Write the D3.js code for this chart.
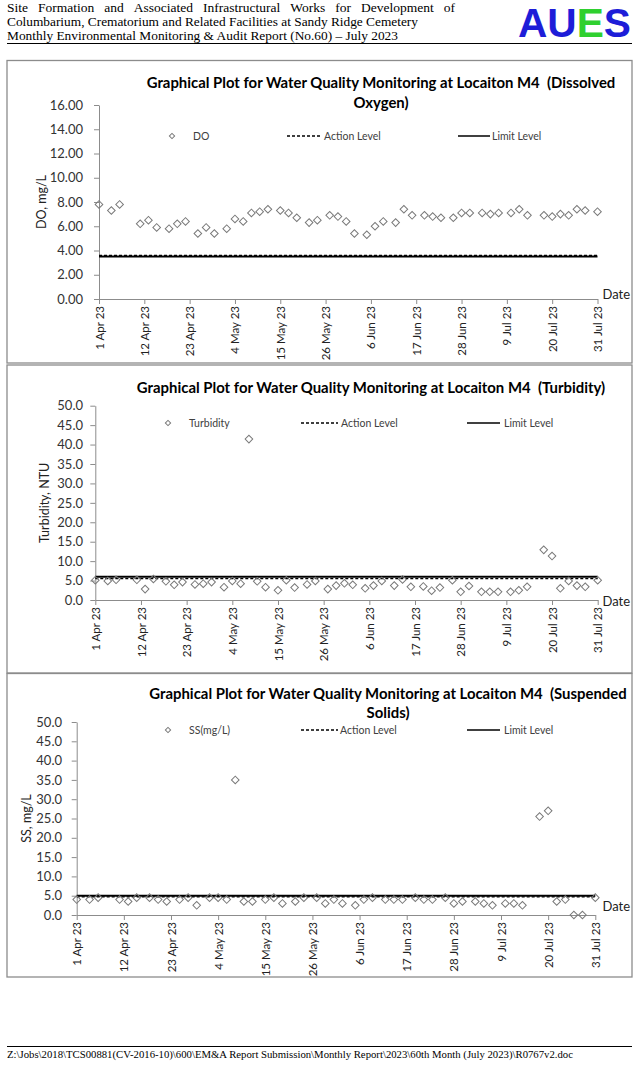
<!DOCTYPE html>
<html><head><meta charset="utf-8">
<script src="https://cdn.jsdelivr.net/npm/d3@7"></script>
<style>body{margin:0;background:#fff;} svg{display:block;} .pre{white-space:pre;}</style>
</head><body>
<svg id="page" width="640" height="1065"></svg>
<script>
// ---------- DATA ----------
const sampleDates = [
  "2023-04-01","2023-04-04","2023-04-06","2023-04-11","2023-04-13","2023-04-15",
  "2023-04-18","2023-04-20","2023-04-22","2023-04-25","2023-04-27","2023-04-29",
  "2023-05-02","2023-05-04","2023-05-06","2023-05-08","2023-05-10","2023-05-12",
  "2023-05-15","2023-05-17","2023-05-19","2023-05-22","2023-05-24","2023-05-27",
  "2023-05-29","2023-05-31","2023-06-02","2023-06-05","2023-06-07","2023-06-09",
  "2023-06-12","2023-06-14","2023-06-16","2023-06-19","2023-06-21","2023-06-23",
  "2023-06-26","2023-06-28","2023-06-30","2023-07-03","2023-07-05","2023-07-07",
  "2023-07-10","2023-07-12","2023-07-14","2023-07-18","2023-07-20","2023-07-22",
  "2023-07-24","2023-07-26","2023-07-28","2023-07-31"];
const doValues = [
  7.8,7.3,7.8,6.2,6.5,5.9, 5.8,6.2,6.4,5.4,5.9,5.4,
  5.8,6.6,6.4,7.1,7.2,7.4, 7.3,7.1,6.7,6.3,6.5,6.9,
  6.8,6.4,5.4,5.3,6.0,6.4, 6.3,7.4,6.9,6.9,6.8,6.7,
  6.7,7.1,7.1,7.1,7.0,7.1, 7.1,7.4,6.9,6.9,6.8,7.0,
  6.9,7.4,7.3,7.2];
const turbidityValues = [
  5.1,4.9,5.2,5.2,2.8,5.4, 4.8,3.9,4.6,4.0,4.2,4.6,
  3.3,4.9,4.2,41.4,4.8,3.3, 2.5,5.1,3.2,4.0,4.9,2.8,
  3.7,4.3,3.9,3.0,3.7,4.9, 3.7,5.3,3.4,3.5,2.4,3.2,
  5.1,2.1,3.6,2.1,2.1,2.1, 2.1,2.5,3.4,12.9,11.3,3.0,
  4.9,3.7,3.4,5.1];
const ssValues = [
  4.0,4.0,4.5,4.0,3.5,4.5, 4.5,4.0,3.5,4.0,4.5,2.5,
  4.5,4.5,4.0,35.0,3.5,3.5, 4.0,4.5,3.0,3.5,4.5,4.5,
  3.0,4.0,3.0,2.5,4.0,4.5, 4.0,4.0,4.0,4.5,4.0,4.0,
  4.5,3.0,3.5,3.5,3.0,2.5, 3.0,3.0,2.5,25.5,27.0,3.5,
  4.0,0.0,0.0,4.5];
const xTickLabels = ["1 Apr 23","12 Apr 23","23 Apr 23","4 May 23","15 May 23","26 May 23",
  "6 Jun 23","17 Jun 23","28 Jun 23","9 Jul 23","20 Jul 23","31 Jul 23"];
const doYTicks = [0,2,4,6,8,10,12,14,16];
const tssYTicks = [0,5,10,15,20,25,30,35,40,45,50];
const actionLevels = [3.6, 5.5, 4.7];   // DO, Turbidity, SS
const limitLevels  = [3.5, 6.0, 5.0];
const seriesNames = ["DO","Turbidity","SS(mg/L)"];
const yTitles = ["DO, mg/L","Turbidity, NTU","SS, mg/L"];
const titleLines = [
  ["Graphical Plot for Water Quality Monitoring at Locaiton M4  (Dissolved","Oxygen)"],
  ["Graphical Plot for Water Quality Monitoring at Locaiton M4  (Turbidity)"],
  ["Graphical Plot for Water Quality Monitoring at Locaiton M4  (Suspended","Solids)"]];
const headerLines = [
  "Site Formation and Associated Infrastructural Works for Development of",
  "Columbarium, Crematorium and Related Facilities at Sandy Ridge Cemetery",
  "Monthly Environmental Monitoring & Audit Report (No.60) \u2013 July 2023"];
const footerText = "Z:\\Jobs\\2018\\TCS00881(CV-2016-10)\\600\\EM&A Report Submission\\Monthly Report\\2023\\60th Month (July 2023)\\R0767v2.doc";

// ---------- DRAW ----------
const svg = d3.select("#page");
const parse = d3.utcParse("%Y-%m-%d");
const parseTick = d3.utcParse("%e %b %y");
const dates = sampleDates.map(parse);
const tickDates = xTickLabels.map(parseTick);
const sans = "Lato, 'Open Sans', sans-serif";

// header
const serif = "'Liberation Serif','Times New Roman',serif";
const hdr = svg.append("g").attr("font-family", serif).attr("font-size", 13.5).attr("fill", "#000");
(function(){
  const words = headerLines[0].split(" ");
  const x0 = 7, x1 = 455, yb = 11.5;
  const tmp = words.map(w => hdr.append("text").attr("y", yb).text(w));
  const widths = tmp.map(t => t.node().getComputedTextLength());
  const gap = (x1 - x0 - d3.sum(widths)) / (words.length - 1);
  let x = x0;
  tmp.forEach((t, i) => { t.attr("x", x); x += widths[i] + gap; });
})();
hdr.append("text").attr("x", 7).attr("y", 25.5).attr("textLength", 411).attr("lengthAdjust", "spacingAndGlyphs").text(headerLines[1]);
hdr.append("text").attr("x", 7).attr("y", 39.5).attr("textLength", 391).attr("lengthAdjust", "spacingAndGlyphs").text(headerLines[2]);
svg.append("line").attr("x1", 7).attr("x2", 632).attr("y1", 43.5).attr("y2", 43.5).attr("stroke", "#000").attr("stroke-width", 1);

// logo
const logoLetters = [["A","#1d1dd8"],["U","#1d1dd8"],["E","#2fd02f"],["S","#1d1dd8"]];
const logo = svg.append("text").attr("x", 518).attr("y", 37).attr("font-family", "'Liberation Sans',Arial,sans-serif")
  .attr("font-weight", "bold").attr("font-size", 40.5).attr("textLength", 113).attr("lengthAdjust", "spacingAndGlyphs");
logoLetters.forEach(([c, col]) => logo.append("tspan").attr("fill", col).text(c));

// footer
svg.append("line").attr("x1", 7).attr("x2", 632).attr("y1", 1046.5).attr("y2", 1046.5).attr("stroke", "#000").attr("stroke-width", 1);
svg.append("text").attr("x", 7).attr("y", 1058).attr("font-family", serif).attr("font-size", 9.5)
  .attr("textLength", 566).attr("lengthAdjust", "spacingAndGlyphs").text(footerText);

const charts = [
  {values: doValues, yTicks: doYTicks, fmt: ".2f", box: [60.5, 363], x0: 99, x1: 597.5, yTop: 105, yBot: 299,
   labelEnd: 83, yTitleX: 42, titleY: [83, 103], titleCx: 381, titleW: 469,
   legY: 136, legMarkX: 172, legTextX: 193, dashX: [287, 322], actTextX: 324, solidX: [458, 490], limTextX: 492, dateY: 294},
  {values: turbidityValues, yTicks: tssYTicks, fmt: ".1f", box: [365, 673], x0: 95.3, x1: 597.7, yTop: 405.7, yBot: 600,
   labelEnd: 83, yTitleX: 45, titleY: [388], titleCx: 371, titleW: 469,
   legY: 423, legMarkX: 168, legTextX: 189, dashX: [301, 338], actTextX: 341, solidX: [467, 500], limTextX: 504, dateY: 601},
  {values: ssValues, yTicks: tssYTicks, fmt: ".1f", box: [673.5, 977], x0: 76.7, x1: 595.3, yTop: 722, yBot: 915,
   labelEnd: 62, yTitleX: 27, titleY: [694, 713], titleCx: 388, titleW: 478,
   legY: 730, legMarkX: 168, legTextX: 189, dashX: [301, 338], actTextX: 340, solidX: [467, 500], limTextX: 504, dateY: 906}
];

const diamond = d3.symbol(d3.symbolSquare, 29)();
const diamondSmall = d3.symbol(d3.symbolSquare, 14)();

charts.forEach((c, k) => {
  const g = svg.append("g");
  g.append("rect").attr("x", 7).attr("y", c.box[0]).attr("width", 625).attr("height", c.box[1] - c.box[0])
    .attr("fill", "none").attr("stroke", "#8c8c8c").attr("stroke-width", 1.3);

  const x = d3.scaleUtc().domain([tickDates[0], tickDates[tickDates.length - 1]]).range([c.x0, c.x1]);
  const y = d3.scaleLinear().domain([0, c.yTicks[c.yTicks.length - 1]]).range([c.yBot, c.yTop]);

  // title
  const tg = g.append("g").attr("font-family", sans).attr("font-weight", "bold").attr("fill", "#000");
  const t0 = tg.append("text").attr("class", "pre").attr("font-size", 14).attr("text-anchor", "middle").attr("x", c.titleCx)
    .attr("y", c.titleY[0]).attr("dy", "0.35em").text(titleLines[k][0]);
  const fs = 14 * c.titleW / t0.node().getComputedTextLength();
  t0.attr("font-size", fs);
  if (titleLines[k][1]) tg.append("text").attr("font-size", fs).attr("text-anchor", "middle").attr("x", c.titleCx)
    .attr("y", c.titleY[1]).attr("dy", "0.35em").text(titleLines[k][1]);

  // y axis
  const ya = g.append("g").attr("transform", `translate(${c.x0},0)`)
    .call(d3.axisLeft(y).tickValues(c.yTicks).tickFormat(d3.format(c.fmt)).tickSize(5).tickSizeOuter(0).tickPadding(c.x0 - c.labelEnd - 5));
  ya.select(".domain").attr("stroke", "#8c8c8c");
  ya.selectAll(".tick line").attr("stroke", "#8c8c8c");
  ya.selectAll(".tick text").attr("font-family", sans).attr("font-size", 13).attr("fill", "#333");

  // x axis
  const xa = g.append("g").attr("transform", `translate(0,${c.yBot})`)
    .call(d3.axisBottom(x).tickValues(tickDates).tickFormat((d, i) => xTickLabels[i]).tickSize(5).tickSizeOuter(0));
  xa.select(".domain").attr("stroke", "#8c8c8c");
  xa.selectAll(".tick line").attr("stroke", "#8c8c8c");
  xa.selectAll(".tick text").attr("font-family", sans).attr("font-size", 11.5).attr("fill", "#222")
    .attr("transform", "rotate(-90)").attr("text-anchor", "end").attr("x", -7).attr("y", 0).attr("dy", "0.35em");

  // y title
  g.append("text").attr("transform", `translate(${c.yTitleX},${(c.yTop + c.yBot) / 2}) rotate(-90)`)
    .attr("text-anchor", "middle").attr("dy", "0.35em").attr("font-family", sans).attr("font-size", 12.5).attr("fill", "#222")
    .text(yTitles[k]);
  // Date label
  g.append("text").attr("x", 602.5).attr("y", c.dateY).attr("dy", "0.35em").attr("font-family", sans)
    .attr("font-size", 13).attr("fill", "#222").text("Date");

  // level lines
  const span = [dates[0], dates[dates.length - 1]];
  const lvl = (v) => d3.line().x(d => x(d)).y(() => y(v))(span);
  g.append("path").attr("d", lvl(limitLevels[k])).attr("stroke", "#000").attr("stroke-width", 2).attr("fill", "none");
  g.append("path").attr("d", lvl(actionLevels[k])).attr("stroke", "#000").attr("stroke-width", 1.3)
    .attr("stroke-dasharray", "3,2").attr("fill", "none");

  // points
  g.append("g").selectAll("path").data(c.values).join("path")
    .attr("d", diamond)
    .attr("transform", (v, i) => `translate(${x(dates[i])},${y(v)}) rotate(45)`)
    .attr("fill", "none").attr("stroke", "#7a7a7a").attr("stroke-width", 1);

  // legend
  const lg = g.append("g").attr("font-family", sans).attr("font-size", 10.5).attr("fill", "#404040");
  lg.append("path").attr("d", diamondSmall).attr("transform", `translate(${c.legMarkX},${c.legY}) rotate(45)`)
    .attr("fill", "none").attr("stroke", "#7a7a7a");
  lg.append("text").attr("x", c.legTextX).attr("y", c.legY).attr("dy", "0.35em").text(seriesNames[k]);
  lg.append("line").attr("x1", c.dashX[0]).attr("x2", c.dashX[1]).attr("y1", c.legY).attr("y2", c.legY)
    .attr("stroke", "#000").attr("stroke-width", 1.3).attr("stroke-dasharray", "3,2");
  lg.append("text").attr("x", c.actTextX).attr("y", c.legY).attr("dy", "0.35em").text("Action Level");
  lg.append("line").attr("x1", c.solidX[0]).attr("x2", c.solidX[1]).attr("y1", c.legY).attr("y2", c.legY)
    .attr("stroke", "#000").attr("stroke-width", 1.5);
  lg.append("text").attr("x", c.limTextX).attr("y", c.legY).attr("dy", "0.35em").text("Limit Level");
});
</script>
</body></html>
